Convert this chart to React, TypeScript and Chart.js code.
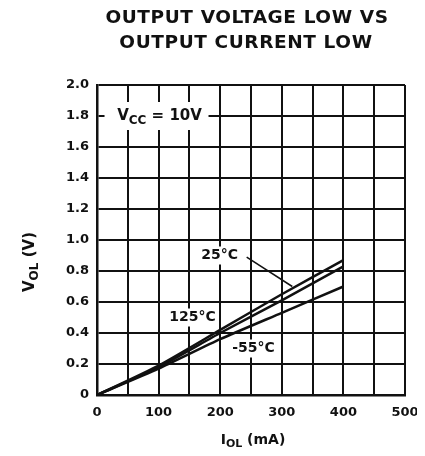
import React, { useEffect, useRef } from "react";
import { Chart, registerables } from "chart.js";

Chart.register(...registerables);

const xCurrent = [0, 100, 200, 300, 400];
const v125 = [0, 0.19, 0.42, 0.65, 0.87];
const v25 = [0, 0.18, 0.4, 0.61, 0.83];
const vm55 = [0, 0.17, 0.36, 0.53, 0.7];

const titleLines = ["OUTPUT VOLTAGE LOW VS", "OUTPUT CURRENT LOW"];
const curveLabels = [
  { text: "25°C", x: 199, y: 0.9 },
  { text: "125°C", x: 155, y: 0.5 },
  { text: "-55°C", x: 254, y: 0.3 },
];
const leader = { x1: 243, y1: 0.89, x2: 317, y2: 0.7 };
const vccLabel = { x: 95, y: 1.8 };

const FONT = "'DejaVu Sans', Arial, sans-serif";
const INK = "#111";

type Part = { t: string; sub?: boolean };

function drawRich(ctx: CanvasRenderingContext2D, parts: Part[], cx: number, cy: number, size: number, subSize: number) {
  const main = `bold ${size}px ${FONT}`;
  const small = `bold ${subSize}px ${FONT}`;
  let w = 0;
  const widths = parts.map((p) => {
    ctx.font = p.sub ? small : main;
    const m = ctx.measureText(p.t).width;
    w += m;
    return m;
  });
  let x = cx - w / 2;
  ctx.textAlign = "left";
  ctx.textBaseline = "middle";
  parts.forEach((p, i) => {
    ctx.font = p.sub ? small : main;
    ctx.fillText(p.t, x, p.sub ? cy + size * 0.3 : cy);
    x += widths[i];
  });
  return w;
}

const annotPlugin = {
  id: "annot",
  afterDraw(chart: any) {
    const ctx: CanvasRenderingContext2D = chart.ctx;
    const xs = chart.scales.x;
    const ys = chart.scales.y;
    ctx.save();
    ctx.fillStyle = INK;
    // title
    ctx.font = `bold 18.5px ${FONT}`;
    (ctx as any).letterSpacing = "0.6px";
    ctx.textAlign = "center";
    ctx.textBaseline = "middle";
    ctx.fillText(titleLines[0], 239, 10);
    ctx.fillText(titleLines[1], 238, 35);
    (ctx as any).letterSpacing = "0px";

    // leader line
    ctx.strokeStyle = INK;
    ctx.lineWidth = 1.5;
    ctx.beginPath();
    ctx.moveTo(xs.getPixelForValue(leader.x1), ys.getPixelForValue(leader.y1));
    ctx.lineTo(xs.getPixelForValue(leader.x2), ys.getPixelForValue(leader.y2));
    ctx.stroke();

    // curve labels
    curveLabels.forEach((l) => {
      const px = xs.getPixelForValue(l.x);
      const py = ys.getPixelForValue(l.y);
      ctx.font = `bold 14px ${FONT}`;
      const w = ctx.measureText(l.text).width;
      ctx.fillStyle = "#fff";
      ctx.fillRect(px - w / 2 - 3, py - 9, w + 6, 18);
      ctx.fillStyle = INK;
      ctx.textAlign = "center";
      ctx.textBaseline = "middle";
      ctx.fillText(l.text, px, py);
    });

    // Vcc label
    {
      const px = xs.getPixelForValue(vccLabel.x);
      const py = ys.getPixelForValue(vccLabel.y);
      ctx.fillStyle = "#fff";
      ctx.fillRect(px - 51, py - 14, 104, 28);
      ctx.fillStyle = INK;
      drawRich(ctx, [{ t: "V" }, { t: "CC", sub: true }, { t: " = 10V" }], px + 4, py, 15, 12);
    }

    // axis titles
    drawRich(ctx, [{ t: "I" }, { t: "OL", sub: true }, { t: " (mA)" }], 245, 432, 14, 11);
    ctx.save();
    ctx.translate(22, 254);
    ctx.rotate(-Math.PI / 2);
    drawRich(ctx, [{ t: "V" }, { t: "OL", sub: true }, { t: " (V)" }], 0, 0, 15, 12);
    ctx.restore();
    ctx.restore();
  },
};

export default function App() {
  const ref = useRef<HTMLCanvasElement>(null);
  useEffect(() => {
    if (!ref.current) return;
    const mk = (ys: number[]) => ({
      data: xCurrent.map((x, i) => ({ x, y: ys[i] })),
      borderColor: INK,
      borderWidth: 2.5,
      pointRadius: 0,
      tension: 0.2,
      fill: false,
    });
    const chart = new Chart(ref.current, {
      type: "line",
      data: { datasets: [mk(v125), mk(v25), mk(vm55)] },
      options: {
        animation: false,
        responsive: false,
        layout: { padding: { top: 77, right: 12, left: 0, bottom: 0 } },
        plugins: { legend: { display: false }, tooltip: { enabled: false }, title: { display: false } },
        scales: {
          x: {
            type: "linear",
            min: 0,
            max: 500,
            afterFit: (s: any) => {
              s.height = 61;
              s.paddingLeft = 0;
              s.paddingRight = 0;
            },
            ticks: {
              stepSize: 50,
              autoSkip: false,
              maxRotation: 0,
              padding: 10,
              color: INK,
              font: { family: FONT, size: 13, weight: "bold" },
              callback: (v: any) => (Math.round(v) % 100 === 0 ? String(Math.round(v)) : ""),
            },
            grid: { color: INK, lineWidth: 2, drawTicks: false },
            border: { color: INK, width: 2.5 },
          },
          y: {
            type: "linear",
            min: 0,
            max: 2,
            afterFit: (s: any) => {
              s.width = 89;
              s.paddingTop = 0;
              s.paddingBottom = 0;
            },
            ticks: {
              stepSize: 0.2,
              autoSkip: false,
              padding: 8,
              color: INK,
              font: { family: FONT, size: 13, weight: "bold" },
              callback: (v: any) => {
                const r = Math.round(v * 10) / 10;
                return r === 0 ? "0" : r.toFixed(1);
              },
            },
            grid: { color: INK, lineWidth: 2, drawTicks: false },
            border: { color: INK, width: 2.5 },
          },
        },
      },
      plugins: [annotPlugin],
    });
    return () => chart.destroy();
  }, []);
  return <canvas ref={ref} width={409} height={448} style={{ display: "block" }} />;
}
